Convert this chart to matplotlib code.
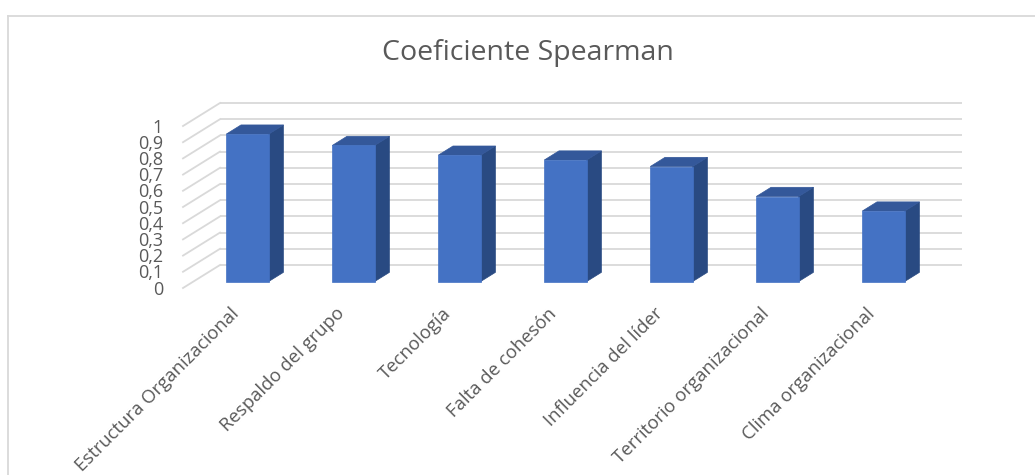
import matplotlib
matplotlib.use("Agg")
import matplotlib.pyplot as plt
from matplotlib.patches import Polygon
from matplotlib.lines import Line2D

# ---- data ----
categories = ["Estructura Organizacional", "Respaldo del grupo", "Tecnología",
              "Falta de cohesón", "Influencia del líder", "Territorio organizacional",
              "Clima organizacional"]
values = [0.91, 0.84, 0.78, 0.75, 0.71, 0.525, 0.435]
ytick_values = [0, 0.1, 0.2, 0.3, 0.4, 0.5, 0.6, 0.7, 0.8, 0.9, 1.0]
ytick_labels = ["0", "0,1", "0,2", "0,3", "0,4", "0,5", "0,6", "0,7", "0,8", "0,9", "1"]
title = "Coeficiente Spearman"

# ---- style / layout ----
FONT = "Open Sans"
TXT = "#595959"
GRID = "#D9D9D9"
FRONT = "#4472C4"
TOP = "#34589A"
SIDE = "#294A82"
W, H, DPI = 1035, 475, 100
PX_X, PX_Y = 106.0, 162.0          # pixels per category / per value unit
ORIG_X, ORIG_Y = 183.0, 288.0      # pixel of front-left-bottom corner
DEPTH_X, DEPTH_Y = 37 / PX_X, 23 / PX_Y   # full depth offset in data units
F0, F1 = 0.28, 0.68                # bar front/back depth fractions
BAR_LEFT, BAR_W = 0.31, 0.40

fig = plt.figure(figsize=(W / DPI, H / DPI), dpi=DPI)
ax = fig.add_axes([0, 0, 1, 1])
ax.set_xlim(-ORIG_X / PX_X, (W - ORIG_X) / PX_X)
ax.set_ylim((ORIG_Y - H) / PX_Y, ORIG_Y / PX_Y)
ax.axis("off")

n = len(categories)
# back wall gridlines and side wall diagonals
for v in ytick_values:
    ax.plot([DEPTH_X, DEPTH_X + n], [v + DEPTH_Y, v + DEPTH_Y], color=GRID, lw=1.3,
            solid_capstyle="butt", zorder=1)
    ax.plot([0, DEPTH_X], [v, v + DEPTH_Y], color=GRID, lw=1.3, zorder=1)

# y labels
for v, lab in zip(ytick_values, ytick_labels):
    ax.text(-20 / PX_X, v - 0.01, lab, ha="right", va="center", fontsize=13,
            color=TXT, family=FONT)

# bars
o0x, o0y = F0 * DEPTH_X, F0 * DEPTH_Y
o1x, o1y = F1 * DEPTH_X, F1 * DEPTH_Y
for i, v in enumerate(values):
    L = i + BAR_LEFT
    R = L + BAR_W
    front = [(L + o0x, o0y), (R + o0x, o0y), (R + o0x, v + o0y), (L + o0x, v + o0y)]
    top = [(L + o0x, v + o0y), (R + o0x, v + o0y), (R + o1x, v + o1y), (L + o1x, v + o1y)]
    side = [(R + o0x, o0y), (R + o1x, o1y), (R + o1x, v + o1y), (R + o0x, v + o0y)]
    ax.add_patch(Polygon(side, closed=True, facecolor=SIDE, edgecolor=SIDE, lw=0.5, zorder=3))
    ax.add_patch(Polygon(top, closed=True, facecolor=TOP, edgecolor=TOP, lw=0.5, zorder=3))
    ax.add_patch(Polygon(front, closed=True, facecolor=FRONT, edgecolor=FRONT, lw=0.5, zorder=4))

# category labels
for i, c in enumerate(categories):
    ax.text(i + 0.50, -0.14, c, rotation=45, rotation_mode="anchor", ha="right",
            va="center", fontsize=13.3, color=TXT, family=FONT)

# title
fig.text(528 / W, 1 - 53 / H, title, ha="center", va="center", fontsize=20.5,
         color=TXT, family=FONT)

# chart frame (partial border)
fig.add_artist(Line2D([8 / W, 1], [1 - 15.7 / H, 1 - 15.7 / H], transform=fig.transFigure,
                      color=GRID, lw=1.3))
fig.add_artist(Line2D([8 / W, 8 / W], [1 - 15.7 / H, 0], transform=fig.transFigure,
                      color=GRID, lw=1.3))

fig.savefig("out.png", dpi=DPI, facecolor="white")
